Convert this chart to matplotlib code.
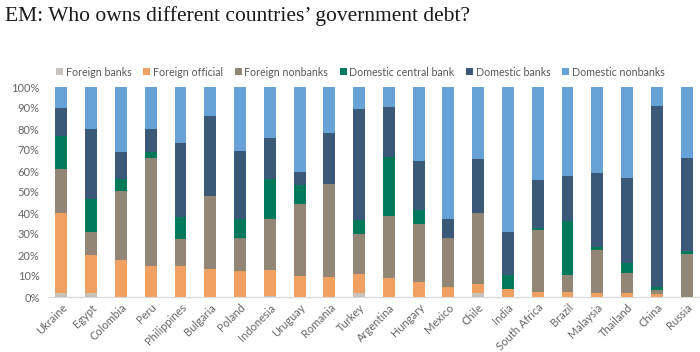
import matplotlib.pyplot as plt
import numpy as np
from matplotlib.ticker import PercentFormatter

countries = ['Ukraine', 'Egypt', 'Colombia', 'Peru', 'Philippines', 'Bulgaria', 'Poland',
             'Indonesia', 'Uruguay', 'Romania', 'Turkey', 'Argentina', 'Hungary', 'Mexico',
             'Chile', 'India', 'South Africa', 'Brazil', 'Malaysia', 'Thailand', 'China', 'Russia']

# cumulative tops (%), converted to shares below
top_foreign_banks = [1.9, 2.0, 0.0, 0.0, 0.0, 0.0, 0.0, 0.6, 0.0, 0.0, 2.0,
                     0.0, 0.0, 0.0, 1.9, 0.0, 0.0, 0.0, 0.0, 0.0, 0.0, 0.0]
top_foreign_official = [39.9, 19.8, 17.7, 15.0, 15.0, 13.4, 12.5, 12.7, 10.1, 9.3, 11.1,
                        9.0, 7.3, 4.9, 6.2, 3.6, 2.5, 2.5, 1.9, 1.7, 1.6, 0.0]
top_foreign_nonbanks = [60.8, 31.0, 50.6, 66.0, 27.8, 48.1, 28.3, 37.0, 44.3, 53.6, 30.0,
                        38.6, 35.0, 28.3, 40.2, 3.6, 31.8, 10.3, 22.5, 11.4, 3.2, 20.7]
top_central_bank = [76.6, 46.5, 56.0, 69.1, 38.1, 48.1, 37.0, 56.0, 53.3, 53.8, 36.6,
                    66.9, 41.5, 28.3, 40.2, 10.4, 32.8, 36.2, 23.7, 16.0, 4.6, 21.8]
top_domestic_banks = [90.0, 79.9, 69.1, 79.9, 73.4, 86.2, 69.3, 75.5, 59.3, 78.2, 89.7,
                      90.7, 64.7, 37.2, 65.5, 31.0, 55.7, 57.8, 58.9, 56.8, 91.0, 66.3]

tops = np.array([top_foreign_banks, top_foreign_official, top_foreign_nonbanks,
                 top_central_bank, top_domestic_banks, [100.0] * len(countries)])
shares = np.diff(np.vstack([np.zeros(len(countries)), tops]), axis=0)

labels = ['Foreign banks', 'Foreign official', 'Foreign nonbanks',
          'Domestic central bank', 'Domestic banks', 'Domestic nonbanks']
colors = ['#C8C2BC', '#F0A060', '#928776', '#00785A', '#3A5878', '#67A2D6']

plt.rcParams['font.family'] = ['Lato', 'DejaVu Sans']

fig = plt.figure(figsize=(7, 3.52), dpi=100)
ax = fig.add_axes([48 / 700, 55 / 352, 652 / 700, 210 / 352])

x = np.arange(len(countries))
bottom = np.zeros(len(countries))
for vals, lab, col in zip(shares, labels, colors):
    ax.bar(x, vals, bottom=bottom, width=0.4, color=col, label=lab)
    bottom += vals

ax.set_xlim(-0.45, len(countries) - 0.55)
ax.set_ylim(0, 100)
ax.set_yticks(np.arange(0, 101, 10))
ax.yaxis.set_major_formatter(PercentFormatter(decimals=0))
ax.set_xticks(x)
ax.set_xticklabels(countries, rotation=45, ha='right', rotation_mode='anchor')
ax.tick_params(axis='both', length=0, colors='#666666', labelsize=8)
ax.tick_params(axis='y', pad=6)
for s in ['top', 'right', 'left']:
    ax.spines[s].set_visible(False)
ax.spines['bottom'].set_color('#D9D9D9')

fig.legend(loc='center', bbox_to_anchor=(0.515, 1 - 72 / 352), ncol=6, frameon=False,
           fontsize=7.7, handlelength=0.65, handleheight=0.65, handletextpad=0.25,
           columnspacing=1.1, labelcolor='#595959')

fig.text(0.007, 0.955, 'EM: Who owns different countries\u2019 government debt?',
         family='Liberation Serif', fontsize=15.5, va='center', ha='left', color='#1a1a1a')

fig.savefig('out.png', dpi=100)
